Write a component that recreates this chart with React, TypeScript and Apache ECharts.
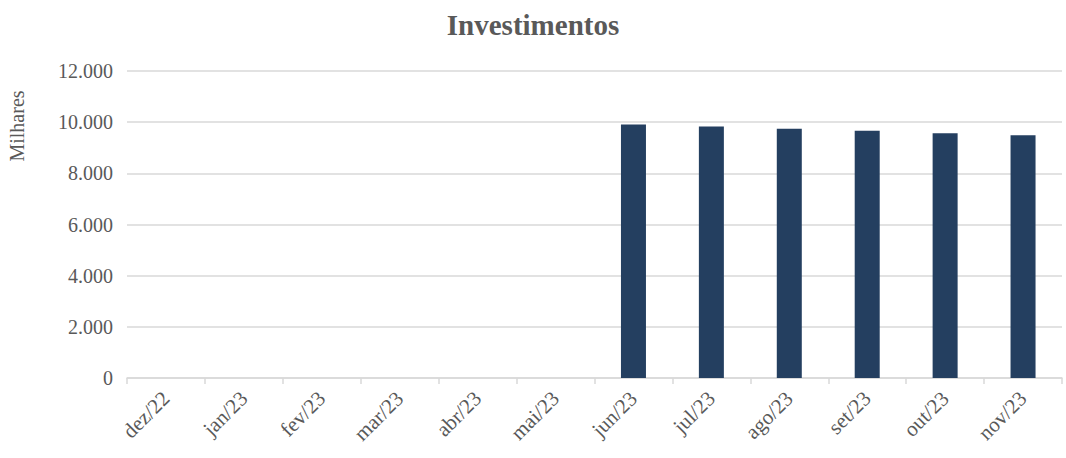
import React, { useEffect, useRef } from "react";
import * as echarts from "echarts";

const categories = ["dez/22", "jan/23", "fev/23", "mar/23", "abr/23", "mai/23", "jun/23", "jul/23", "ago/23", "set/23", "out/23", "nov/23"];
const investimentos: (number | null)[] = [null, null, null, null, null, null, 9910, 9830, 9740, 9660, 9570, 9490];
const yTicks = [0, 2000, 4000, 6000, 8000, 10000, 12000];

const FONT = "'Liberation Serif', 'DejaVu Serif', serif";
const TXT = "#595959";

function fmt(v: number): string {
  return v.toString().replace(/\B(?=(\d{3})+(?!\d))/g, ".");
}

export default function App() {
  const ref = useRef<HTMLDivElement>(null);
  useEffect(() => {
    document.body.style.margin = "0";
    if (!ref.current) return;
    const chart = echarts.init(ref.current, null, { renderer: "svg" });
    chart.setOption({
      animation: false,
      backgroundColor: "#ffffff",
      title: {
        text: "Investimentos",
        left: "center",
        top: 5,
        textStyle: { fontFamily: FONT, fontWeight: "bold", fontSize: 29, color: TXT },
      },
      graphic: [
        {
          type: "text",
          x: 17,
          y: 126,
          rotation: Math.PI / 2,
          style: {
            text: "Milhares",
            fontFamily: FONT,
            fontSize: 20,
            fill: TXT,
            textAlign: "center",
            textVerticalAlign: "middle",
          },
        },
      ],
      grid: { left: 127, right: 4, top: 71, bottom: 80 },
      xAxis: {
        type: "category",
        data: categories,
        axisLine: { show: true, lineStyle: { color: "#d9d9d9", width: 1.5 } },
        axisTick: { show: true, length: 6, lineStyle: { color: "#d9d9d9", width: 1.5 } },
        axisLabel: {
          rotate: 45,
          margin: 17,
          fontFamily: FONT,
          fontSize: 21,
          color: TXT,
          interval: 0,
        },
      },
      yAxis: {
        type: "value",
        min: yTicks[0],
        max: yTicks[yTicks.length - 1],
        interval: 2000,
        axisLine: { show: false },
        axisTick: { show: false },
        splitLine: { lineStyle: { color: "#d9d9d9", width: 1.5 } },
        axisLabel: {
          margin: 14,
          fontFamily: FONT,
          fontSize: 20,
          color: TXT,
          formatter: (v: number) => fmt(v),
        },
      },
      series: [
        {
          type: "bar",
          name: "Investimentos",
          data: investimentos,
          barWidth: 25,
          itemStyle: { color: "#243f60" },
        },
      ],
    });
    return () => chart.dispose();
  }, []);
  return <div ref={ref} style={{ width: 1066, height: 458 }} />;
}
